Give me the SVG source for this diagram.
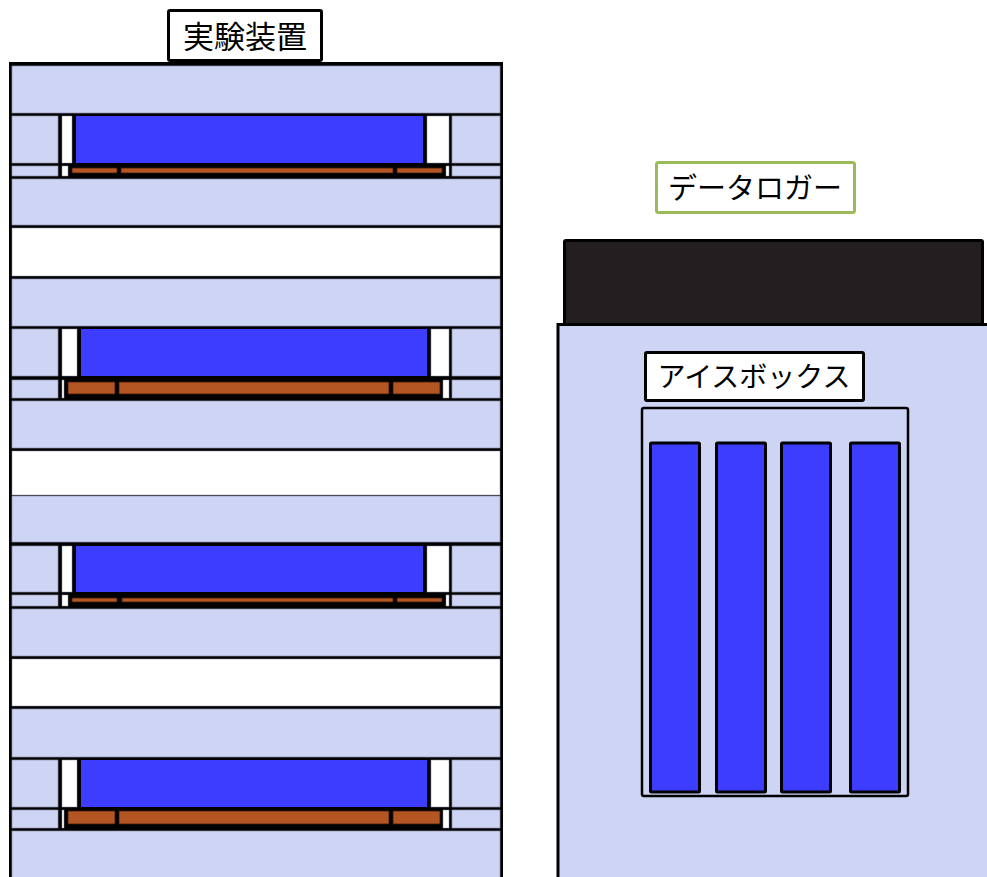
<svg xmlns="http://www.w3.org/2000/svg" width="987" height="877" viewBox="0 0 987 877">
  <defs>
    <style>
      .lav { fill: #CDD4F4; stroke: #8C91A8; stroke-width: 0.7; }
      .wht { fill: #FFFFFF; stroke: #8C91A8; stroke-width: 0.5; }
      .blu { fill: #3D3DFF; }
      .brn { fill: #B45623; stroke: #3A1A0A; stroke-width: 0.8; }
      .box { fill: #FFFFFF; stroke: #000000; stroke-width: 3; }
      .bar { fill: #3D3DFF; stroke: #000000; stroke-width: 3; }
      .lbl { font-family: "Noto Sans CJK JP", "Noto Sans", sans-serif; fill: #000000; text-anchor: middle; }
    </style>
  </defs>
  <rect x="0" y="0" width="987" height="877" fill="#FFFFFF"/>

  <!-- experimental apparatus: stacked layers on a black frame -->
  <g id="apparatus">
    <rect x="9" y="62" width="494" height="820" fill="#000000"/>

    <!-- layer 1 -->
    <g id="layer-1">
      <rect class="lav" x="12" y="66" width="488" height="47"/>
      <rect class="lav" x="12" y="116" width="46" height="47"/>
      <rect class="wht" x="62" y="116" width="10" height="47"/>
      <rect class="blu" x="76" y="116" width="347" height="47"/>
      <rect class="wht" x="427" y="116" width="22" height="47"/>
      <rect class="lav" x="452" y="116" width="48" height="47"/>
      <rect class="lav" x="12" y="166" width="46" height="10"/>
      <rect class="wht" x="62" y="166" width="6" height="10"/>
      <rect class="brn" x="72" y="168" width="45" height="5"/>
      <rect class="brn" x="121" y="168" width="272" height="5"/>
      <rect class="brn" x="397" y="168" width="45" height="5"/>
      <rect class="wht" x="446" y="166" width="3" height="10"/>
      <rect class="lav" x="452" y="166" width="48" height="10"/>
      <rect class="lav" x="12" y="179" width="488" height="46"/>
      <rect class="wht" x="12" y="228" width="488" height="48"/>
    </g>

    <!-- layer 2 -->
    <g id="layer-2">
      <rect class="lav" x="12" y="279" width="488" height="47"/>
      <rect class="lav" x="12" y="329" width="46" height="47"/>
      <rect class="wht" x="62" y="329" width="15" height="47"/>
      <rect class="blu" x="81" y="329" width="346" height="47"/>
      <rect class="wht" x="431" y="329" width="18" height="47"/>
      <rect class="lav" x="452" y="329" width="48" height="47"/>
      <rect class="lav" x="12" y="380" width="46" height="18"/>
      <rect class="wht" x="62" y="380" width="2" height="18"/>
      <rect class="brn" x="68" y="382" width="47" height="12"/>
      <rect class="brn" x="119" y="382" width="270" height="12"/>
      <rect class="brn" x="393" y="382" width="47" height="12"/>
      <rect class="wht" x="443" y="380" width="6" height="18"/>
      <rect class="lav" x="452" y="380" width="48" height="18"/>
      <rect class="lav" x="12" y="401" width="488" height="47"/>
      <rect class="wht" x="12" y="451" width="488" height="44"/>
    </g>

    <!-- layer 3 -->
    <g id="layer-3">
      <rect class="lav" x="12" y="496" width="488" height="46"/>
      <rect class="lav" x="12" y="546" width="46" height="46"/>
      <rect class="wht" x="62" y="546" width="10" height="46"/>
      <rect class="blu" x="76" y="546" width="347" height="46"/>
      <rect class="wht" x="427" y="546" width="22" height="46"/>
      <rect class="lav" x="452" y="546" width="48" height="46"/>
      <rect class="lav" x="12" y="595" width="46" height="11"/>
      <rect class="wht" x="62" y="595" width="6" height="11"/>
      <rect class="brn" x="72" y="598" width="45" height="4"/>
      <rect class="brn" x="122" y="598" width="271" height="4"/>
      <rect class="brn" x="397" y="598" width="45" height="4"/>
      <rect class="wht" x="446" y="595" width="3" height="11"/>
      <rect class="lav" x="452" y="595" width="48" height="11"/>
      <rect class="lav" x="12" y="609" width="488" height="47"/>
      <rect class="wht" x="12" y="659" width="488" height="47"/>
    </g>

    <!-- layer 4 -->
    <g id="layer-4">
      <rect class="lav" x="12" y="709" width="488" height="48"/>
      <rect class="lav" x="12" y="760" width="46" height="47"/>
      <rect class="wht" x="62" y="760" width="15" height="47"/>
      <rect class="blu" x="81" y="760" width="346" height="47"/>
      <rect class="wht" x="431" y="760" width="18" height="47"/>
      <rect class="lav" x="452" y="760" width="48" height="47"/>
      <rect class="lav" x="12" y="810" width="46" height="18"/>
      <rect class="wht" x="62" y="810" width="2" height="18"/>
      <rect class="brn" x="68" y="811" width="47" height="13"/>
      <rect class="brn" x="119" y="811" width="270" height="13"/>
      <rect class="brn" x="393" y="811" width="47" height="13"/>
      <rect class="wht" x="443" y="810" width="6" height="18"/>
      <rect class="lav" x="452" y="810" width="48" height="18"/>
      <rect class="lav" x="12" y="831" width="488" height="50"/>
    </g>
  </g>

  <g id="apparatus-label">
    <rect class="box" x="168.5" y="10.5" width="153" height="50" rx="1.5"/>
    <text class="lbl" x="245" y="48" font-size="31">実験装置</text>
  </g>

  <!-- data logger on top of the ice box -->
  <g id="datalogger">
    <rect x="564.5" y="240.5" width="418" height="86" rx="1.5" fill="#231F20" stroke="#000000" stroke-width="3"/>
  </g>

  <g id="datalogger-label">
    <rect x="656.5" y="162.5" width="198" height="50" rx="2" fill="#FFFFFF" stroke="#9BBB59" stroke-width="3"/>
    <text class="lbl" x="755" y="199" font-size="29">データロガー</text>
  </g>

  <g id="icebox">
    <rect x="558" y="324.5" width="440" height="560" fill="#CDD4F4" stroke="#000000" stroke-width="3"/>
    <rect id="icebox-rack" x="642" y="408" width="266" height="388" rx="2" fill="none" stroke="#000000" stroke-width="2.5"/>
    <rect class="bar" x="650.5" y="443" width="49" height="349" rx="1"/>
    <rect class="bar" x="716.5" y="443" width="49" height="349" rx="1"/>
    <rect class="bar" x="781.5" y="443" width="49" height="349" rx="1"/>
    <rect class="bar" x="850.5" y="443" width="49" height="349" rx="1"/>
  </g>

  <g id="icebox-label">
    <rect class="box" x="645.5" y="352.5" width="218" height="48" rx="1.5"/>
    <text class="lbl" x="754" y="387" font-size="28">アイスボックス</text>
  </g>
</svg>
